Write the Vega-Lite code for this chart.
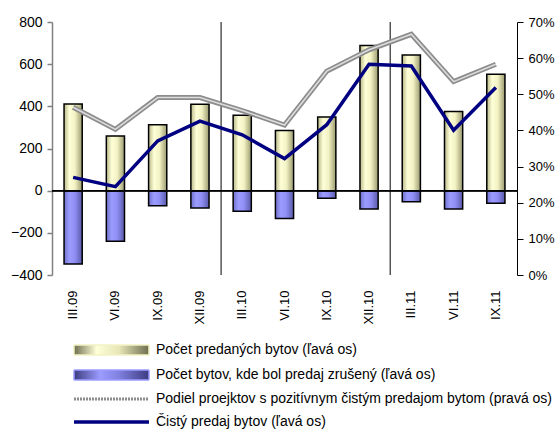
{
  "$schema": "https://vega.github.io/schema/vega-lite/v6.json",
  "autosize": "none",
  "width": 465,
  "height": 253,
  "padding": {"left": 52, "top": 22, "right": 39, "bottom": 160},
  "background": "white",
  "config": {
    "font": "Liberation Sans",
    "view": {"stroke": null},
    "axisX": {
      "domain": false, "ticks": false, "title": null, "labelAngle": -90,
      "labelPadding": 15, "labelFontSize": 13, "labelColor": "#000000", "grid": false
    }
  },
  "data": {"values": [
    {"q": "III.09", "sold": 411, "cancel": -348, "net": 63, "share": 0.464},
    {"q": "VI.09", "sold": 259, "cancel": -240, "net": 19, "share": 0.403},
    {"q": "IX.09", "sold": 313, "cancel": -71, "net": 236, "share": 0.491},
    {"q": "XII.09", "sold": 410, "cancel": -82, "net": 330, "share": 0.491},
    {"q": "III.10", "sold": 358, "cancel": -98, "net": 265, "share": 0.455},
    {"q": "VI.10", "sold": 285, "cancel": -132, "net": 152, "share": 0.415},
    {"q": "IX.10", "sold": 350, "cancel": -36, "net": 313, "share": 0.564},
    {"q": "XII.10", "sold": 688, "cancel": -87, "net": 600, "share": 0.623},
    {"q": "III.11", "sold": 644, "cancel": -52, "net": 591, "share": 0.666},
    {"q": "VI.11", "sold": 375, "cancel": -87, "net": 287, "share": 0.535},
    {"q": "IX.11", "sold": 552, "cancel": -60, "net": 489, "share": 0.583}
  ]},
  "encoding": {
    "x": {
      "field": "q", "type": "ordinal", "sort": null,
      "scale": {"domain": ["III.09","VI.09","IX.09","XII.09","III.10","VI.10","IX.10","XII.10","III.11","VI.11","IX.11"], "paddingInner": 0, "paddingOuter": 0}
    }
  },
  "layer": [
    {
      "layer": [
        {
          "mark": {"type": "bar", "width": {"band": 0.43}, "stroke": "#000000", "strokeWidth": 1.5,
            "fill": {"gradient": "linear", "x1": 0, "y1": 0, "x2": 1, "y2": 0, "stops": [
              {"offset": 0, "color": "#b8b888"}, {"offset": 0.3, "color": "#ffffd8"}, {"offset": 0.6, "color": "#f2f2c4"}, {"offset": 1, "color": "#9a9a70"}]}},
          "encoding": {
            "y": {"field": "sold", "type": "quantitative",
              "scale": {"domain": [-400, 800], "nice": false, "zero": false},
              "axis": {"orient": "left", "values": [-400,-200,0,200,400,600,800], "title": null, "grid": false,
                "domainColor": "#808080", "domainWidth": 1.5, "tickColor": "#808080", "tickWidth": 1.5, "tickSize": 5,
                "labelPadding": 5, "labelFontSize": 14, "labelColor": "#000000", "labelOverlap": false}}
          }
        },
        {
          "mark": {"type": "bar", "width": {"band": 0.43}, "stroke": "#000000", "strokeWidth": 1.5,
            "fill": {"gradient": "linear", "x1": 0, "y1": 0, "x2": 1, "y2": 0, "stops": [
              {"offset": 0, "color": "#7070cc"}, {"offset": 0.3, "color": "#9c9cff"}, {"offset": 0.6, "color": "#8e8ef4"}, {"offset": 1, "color": "#5a5aaa"}]}},
          "encoding": {"y": {"field": "cancel", "type": "quantitative"}}
        },
        {
          "data": {"values": [{"q": "XII.09"}, {"q": "XII.10"}]},
          "mark": {"type": "rule", "color": "#000000", "strokeWidth": 1},
          "encoding": {"x": {"field": "q", "type": "ordinal", "bandPosition": 1}}
        },
        {
          "mark": {"type": "rule", "color": "#000000", "strokeWidth": 1},
          "encoding": {"x": null, "y": {"datum": 0, "type": "quantitative"}}
        },
        {
          "mark": {"type": "line", "strokeWidth": 3.5},
          "encoding": {
            "y": {"field": "net", "type": "quantitative"},
            "color": {"datum": "Čistý predaj bytov (ľavá os)",
              "scale": {"domain": ["Počet predaných bytov (ľavá os)", "Počet bytov, kde bol predaj zrušený (ľavá os)", "Podiel proejktov s pozitívnym čistým predajom bytom (pravá os)", "Čistý predaj bytov (ľavá os)"],
                "range": ["#f2f2c4", "#9c9cff", "#8c8c8c", "#000080"]},
              "legend": {
                "orient": "none", "legendX": 20, "legendY": 321, "title": null,
                "symbolSize": 100, "labelFontSize": 14, "labelColor": "#000000", "labelOffset": 70, "labelLimit": 0,
                "rowPadding": 9, "symbolStrokeWidth": 1.5,
                "encode": {"symbols": {"update": {
                  "shape": {"signal": "datum.index < 2 ? 'M-1,-1H14V1H-1Z' : 'M-1,0H14'"},
                  "fill": {"signal": "datum.index == 0 ? {gradient: 'linear', x1: 0, y1: 0, x2: 1, y2: 0, stops: [{offset: 0, color: '#6e6e50'}, {offset: 0.3, color: '#ffffd8'}, {offset: 0.6, color: '#e6e6b8'}, {offset: 1, color: '#6e6e50'}]} : datum.index == 1 ? {gradient: 'linear', x1: 0, y1: 0, x2: 1, y2: 0, stops: [{offset: 0, color: '#3c3c80'}, {offset: 0.35, color: '#9c9cff'}, {offset: 0.6, color: '#8080e0'}, {offset: 1, color: '#3c3c80'}]} : 'transparent'"},
                  "stroke": {"signal": "datum.index < 2 ? '#000000' : datum.index == 2 ? '#999999' : '#000080'"},
                  "strokeWidth": {"signal": "datum.index < 2 ? 1.5 : datum.index == 2 ? 3 : 3.5"},
                  "strokeDash": {"signal": "datum.index == 2 ? [2, 1] : [1, 0]"},
                  "opacity": {"value": 1}
                }}}
              }
            }
          }
        }
      ]
    },
    {
      "encoding": {
        "y": {"field": "share", "type": "quantitative",
          "scale": {"domain": [0, 0.7], "nice": false},
          "axis": {"orient": "right", "values": [0,0.1,0.2,0.3,0.4,0.5,0.6,0.7], "format": ".0%", "title": null, "grid": false,
            "domainColor": "#000000", "tickColor": "#000000", "tickSize": 6, "labelPadding": 5, "labelFontSize": 13,
            "labelColor": "#000000", "labelOverlap": false, "labelBound": false, "labelFlush": false}}
      },
      "layer": [
        {
          "mark": {"type": "line", "strokeWidth": 5},
          "encoding": {
            "color": {"datum": "Podiel proejktov s pozitívnym čistým predajom bytom (pravá os)"}
          }
        },
        {
          "mark": {"type": "line", "strokeWidth": 1.6, "color": "#dcdcdc"}
        }
      ]
    }
  ],
  "resolve": {"scale": {"y": "independent"}}
}
